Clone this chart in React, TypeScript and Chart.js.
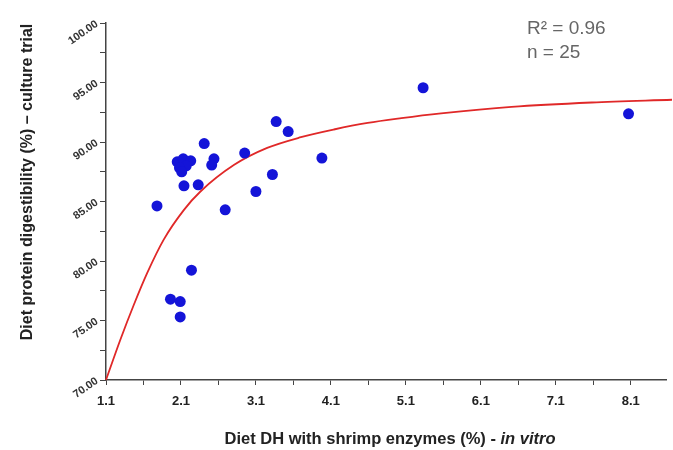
import React, { useEffect, useRef } from 'react';
import { Chart, registerables } from 'chart.js';

Chart.register(...registerables);

// Observed points: diet DH in vitro (x) vs digestibility in culture trial (y)
const dhInVitro = [
  3.37, 3.53, 2.41, 2.95, 3.98, 2.54, 2.51,
  2.05, 2.13, 2.23, 2.17, 2.08, 2.11,
  3.32, 2.14, 2.33, 3.10, 1.78, 2.69,
  2.24, 1.96, 2.09, 2.09, 5.33, 8.07,
];
const digestibility = [
  91.72, 90.88, 89.87, 89.07, 88.65, 88.59, 88.06,
  88.33, 88.59, 88.42, 88.0, 87.83, 87.49,
  87.27, 86.32, 86.4, 85.84, 84.63, 84.3,
  79.23, 76.79, 76.59, 75.3, 94.56, 92.37,
];

// Fitted curve
const curveX = [1.1, 1.29, 1.47, 1.65, 1.87, 2.14, 2.36, 2.81, 3.25, 3.7, 4.14, 4.59, 5.04, 5.57, 6.51, 7.58, 8.65];
const curveY = [70, 73.36, 76.3, 79.0, 81.8, 84.3, 85.84, 88.08, 89.5, 90.4, 91.05, 91.6, 92.0, 92.4, 92.95, 93.32, 93.55];

const xMajorTicks = [1.1, 2.1, 3.1, 4.1, 5.1, 6.1, 7.1, 8.1];
const yMajorTicks = [70, 75, 80, 85, 90, 95, 100];
const xMin = 1.1;
const xMax = 8.57;
const yMin = 70;
const yMax = 100;

const xTitleMain = 'Diet DH with shrimp enzymes (%) - ';
const xTitleItalic = 'in vitro';
const yTitle = 'Diet protein digestibility (%) \u2013 culture trial';
const statsLines = ['R\u00B2 = 0.96', 'n = 25'];

const FONT = '"Liberation Sans", Arial, sans-serif';

function withMinor(major: number[]): number[] {
  const out: number[] = [];
  for (let i = 0; i < major.length; i++) {
    out.push(major[i]);
    if (i < major.length - 1) out.push((major[i] + major[i + 1]) / 2);
  }
  return out;
}

const textPlugin = {
  id: 'textPlugin',
  afterDraw(chart: any) {
    const ctx = chart.ctx as CanvasRenderingContext2D;
    ctx.save();
    ctx.fillStyle = '#222';
    // y title
    ctx.font = `bold 16px ${FONT}`;
    ctx.textAlign = 'center';
    ctx.textBaseline = 'middle';
    ctx.translate(28, 182);
    ctx.rotate(-Math.PI / 2);
    ctx.fillText(yTitle, 0, 0);
    ctx.setTransform(1, 0, 0, 1, 0, 0);
    // x title
    ctx.font = `bold 16.5px ${FONT}`;
    const w1 = ctx.measureText(xTitleMain).width;
    ctx.font = `italic bold 16.5px ${FONT}`;
    const w2 = ctx.measureText(xTitleItalic).width;
    const startX = 390 - (w1 + w2) / 2;
    ctx.textAlign = 'left';
    ctx.textBaseline = 'middle';
    ctx.font = `bold 16.5px ${FONT}`;
    ctx.fillText(xTitleMain, startX, 439);
    ctx.font = `italic bold 16.5px ${FONT}`;
    ctx.fillText(xTitleItalic, startX + w1, 439);
    // stats
    ctx.fillStyle = '#666';
    ctx.font = `19px ${FONT}`;
    ctx.fillText(statsLines[0], 527, 29);
    ctx.fillText(statsLines[1], 527, 53);
    ctx.restore();
  },
};

export default function App() {
  const ref = useRef<HTMLCanvasElement | null>(null);
  useEffect(() => {
    if (!ref.current) return;
    const points = dhInVitro.map((x, i) => ({ x, y: digestibility[i] }));
    const curve = curveX.map((x, i) => ({ x, y: curveY[i] }));
    const xTicks = withMinor(xMajorTicks);
    const yTicks = withMinor(yMajorTicks);
    const chart = new Chart(ref.current, {
      type: 'scatter',
      data: {
        datasets: [
          {
            data: curve,
            showLine: true,
            borderColor: '#e02828',
            borderWidth: 1.8,
            pointRadius: 0,
            cubicInterpolationMode: 'monotone',
            clip: false,
            order: 2,
          } as any,
          {
            data: points,
            backgroundColor: '#1414d8',
            borderColor: '#1414d8',
            pointRadius: 5.5,
            borderWidth: 0,
            order: 1,
          },
        ],
      },
      options: {
        responsive: false,
        animation: false,
        layout: { padding: { top: 23, right: 7, left: 0, bottom: 0 } },
        plugins: { legend: { display: false }, tooltip: { enabled: false } },
        scales: {
          x: {
            type: 'linear',
            min: xMin,
            max: xMax,
            afterBuildTicks: (s: any) => {
              s.ticks = xTicks.map((v) => ({ value: v }));
            },
            afterFit: (s: any) => {
              s.height = 70;
            },
            ticks: {
              autoSkip: false,
              maxRotation: 0,
              padding: 9,
              color: '#222',
              font: { family: FONT, size: 13, weight: 'bold' },
              callback: (v: any) => {
                const n = Number(v);
                return xMajorTicks.some((m) => Math.abs(m - n) < 1e-6) ? n.toFixed(1) : '';
              },
            },
            grid: { drawOnChartArea: false, drawTicks: true, tickLength: 5, color: '#444' },
            border: { color: '#444', width: 1.5 },
          },
          y: {
            type: 'linear',
            min: yMin,
            max: yMax,
            afterBuildTicks: (s: any) => {
              s.ticks = yTicks.map((v) => ({ value: v }));
            },
            afterFit: (s: any) => {
              s.width = 106;
            },
            ticks: {
              autoSkip: false,
              minRotation: 35,
              maxRotation: 35,
              padding: 3,
              color: '#333',
              font: { family: FONT, size: 11, weight: 'bold' },
              callback: (v: any) => {
                const n = Number(v);
                return yMajorTicks.some((m) => Math.abs(m - n) < 1e-6) ? n.toFixed(2) : '';
              },
            },
            grid: { drawOnChartArea: false, drawTicks: true, tickLength: 6, color: '#444' },
            border: { color: '#444', width: 1.5 },
          },
        },
      },
      plugins: [textPlugin],
    });
    return () => chart.destroy();
  }, []);
  return (
    <div style={{ position: 'absolute', left: 0, top: 0, width: 673, height: 450, background: '#fff' }}>
      <canvas ref={ref} width={673} height={450} />
    </div>
  );
}
